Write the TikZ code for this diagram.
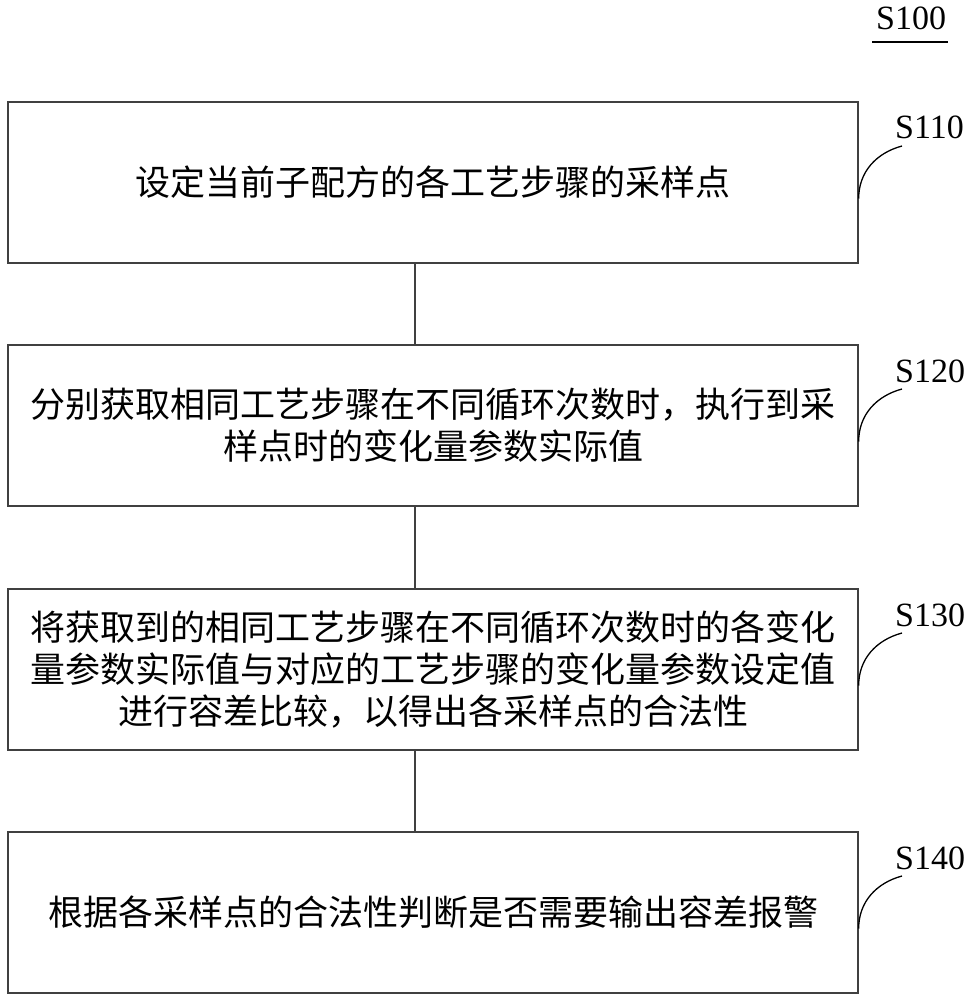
\documentclass[tikz,border=0pt]{standalone}
\usepackage{fontspec}
\setmainfont{Liberation Serif}
\newfontfamily\cjk{Noto Sans CJK SC}
\begin{document}
\begin{tikzpicture}[x=1pt,y=-1pt,
  stepbox/.style={draw=black!75,line width=1.3pt,minimum width=850pt,minimum height=161pt,
    text width=845pt,align=center,inner sep=0pt,
    font=\cjk\fontsize{35}{42}\selectfont},
  steplabel/.style={anchor=base west,inner sep=0pt,font=\fontsize{34}{34}\selectfont},
  conn/.style={draw=black!75,line width=1.3pt},
  hook/.style={draw=black,line width=1.3pt}]
\useasboundingbox (0,0) rectangle (967,1000);
\node[steplabel] (l100) at (876,30) {S100};
\draw[line width=1.2pt] (872,42) -- (948,42);
\node[stepbox] (b1) at (433,182.5) {设定当前子配方的各工艺步骤的采样点};
\node[stepbox] (b2) at (433,425.5) {分别获取相同工艺步骤在不同循环次数时，执行到采\\样点时的变化量参数实际值};
\node[stepbox] (b3) at (433,669.5) {将获取到的相同工艺步骤在不同循环次数时的各变化\\量参数实际值与对应的工艺步骤的变化量参数设定值\\进行容差比较，以得出各采样点的合法性};
\node[stepbox] (b4) at (433,912.5) {根据各采样点的合法性判断是否需要输出容差报警};
\draw[conn] ([xshift=-18pt]b1.south) -- ([xshift=-18pt]b2.north);
\draw[conn] ([xshift=-18pt]b2.south) -- ([xshift=-18pt]b3.north);
\draw[conn] ([xshift=-18pt]b3.south) -- ([xshift=-18pt]b4.north);
\node[steplabel] (l110) at (895,139) {S110};
\node[steplabel] (l120) at (895,382) {S120};
\node[steplabel] (l130) at (895,626) {S130};
\node[steplabel] (l140) at (895,869) {S140};
\foreach \b/\l in {b1/l110,b2/l120,b3/l130,b4/l140}{
  \draw[hook] ([yshift=-16pt]\b.east) to[out=90,in=195] ([xshift=7pt,yshift=-7pt]\l.base west);
}
\end{tikzpicture}
\end{document}
